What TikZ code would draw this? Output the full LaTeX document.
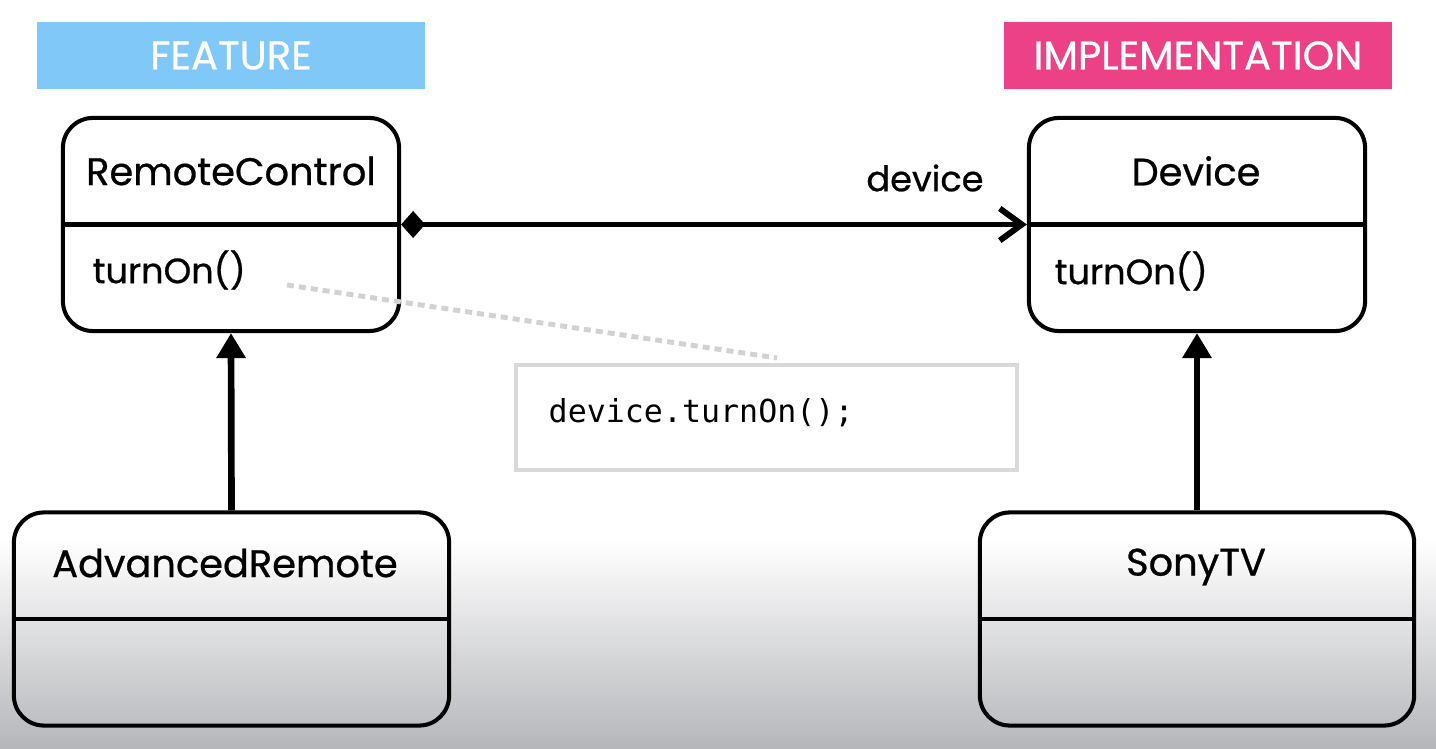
\documentclass[tikz,border=0pt]{standalone}
\usepackage{fontspec}
\setmainfont{Poppins}[FakeBold=0.7]
\setmonofont{DejaVu Sans Mono}
\usetikzlibrary{arrows.meta}

\definecolor{featblue}{RGB}{127,200,248}
\definecolor{implpink}{RGB}{236,64,135}
\definecolor{notegray}{RGB}{217,217,217}
\definecolor{dotgray}{RGB}{210,210,210}
\definecolor{shadegray}{RGB}{181,182,186}

\tikzset{
	classbox/.style={draw, line width=1.15pt, rounded corners=0.3cm, minimum width=3.36cm, minimum height=2.13cm, inner sep=0pt},
	boxline/.style={line width=1.15pt},
	banner/.style={text=white, minimum width=3.88cm, minimum height=0.67cm, inner sep=0pt, font=\fontsize{11.4}{13}\selectfont},
	classname/.style={font=\fontsize{10.9}{12}\selectfont, inner sep=0pt},
	method/.style={font=\fontsize{10}{12}\selectfont, inner sep=0pt, anchor=west},
	assoc/.style={line width=1.7pt, {Diamond[length=0.24cm,width=0.27cm]}-{Straight Barb[length=0.22cm,width=0.32cm]}},
	inherit/.style={line width=1.9pt, -{Triangle[length=0.25cm,width=0.28cm]}},
	notebox/.style={draw=notegray, line width=1.15pt, minimum width=5.01cm, minimum height=1.05cm, inner sep=0pt},
	noteline/.style={draw=dotgray, line width=1.4pt, dash pattern=on 0.07cm off 0.05cm}
}

\begin{document}
\begin{tikzpicture}[x=0.01cm, y=-0.01cm]
				% background and fade at the bottom
				\fill[white] (0,0) rectangle (1436,749);
				\shade[top color=white, bottom color=shadegray] (0,540) rectangle (1436,749);
				\useasboundingbox (0,0) rectangle (1436,749);

				\node[banner, fill=featblue] (feat) at (231,55.5) {FEATURE};
				\node[banner, fill=implpink] (impl) at (1198,55.5) {IMPLEMENTATION};

				% classes
				\node[classbox] (rc) at (231,224.5) {};
				\node[classbox] (dev) at (1197,224.5) {};
				\node[classbox, minimum width=4.35cm] (adv) at (231.5,619) {};
				\node[classbox, minimum width=4.34cm] (sony) at (1197,619) {};
				\draw[boxline] (rc.west) -- (rc.east);
				\draw[boxline] (dev.west) -- (dev.east);
				\draw[boxline] (adv.west) -- (adv.east);
				\draw[boxline] (sony.west) -- (sony.east);

				\node[classname] (rcname) at (231,171) {RemoteControl};
				\node[classname] (devname) at (1196,171) {Device};
				\node[classname] (advname) at (225,563) {AdvancedRemote};
				\node[classname] (sonyname) at (1196,567) {SonyTV};
				\node[method] (rcop) at (92,270) {turnOn()};
				\node[method] (devop) at (1054,271) {turnOn()};

				% connectors
				\draw[assoc] (rc.east) -- (dev.west);
				\node[method, anchor=center] (devlabel) at (925,178) {device};
				\draw[inherit] (adv.north) -- (rc.south);
				\draw[inherit] (sony.north) -- (dev.south);

				% note
				\coordinate (notefrom) at (287,285);
				\coordinate (noteto) at (777,358);
				\draw[noteline] (notefrom) -- (noteto);
				\node[notebox] (note) at (766.5,417.5) {};
				\node[anchor=west, inner sep=0pt, font=\ttfamily\fontsize{9}{11}\selectfont] (code) at (548,413) {device.turnOn();};
\end{tikzpicture}
\end{document}
